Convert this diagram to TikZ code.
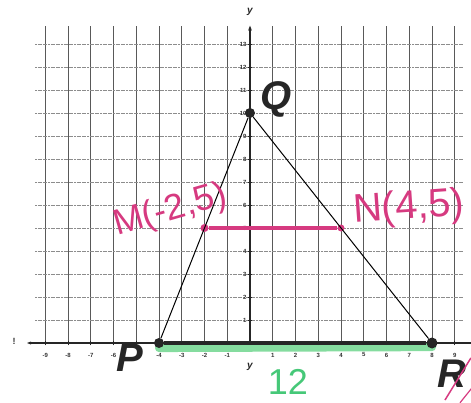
\documentclass[tikz,border=0pt]{standalone}
\usepackage{fontspec}
\setmainfont{Liberation Sans}
\usetikzlibrary{arrows.meta}
\definecolor{pinkink}{RGB}{214,58,128}
\definecolor{greenhl}{RGB}{112,214,142}
\definecolor{greenink}{RGB}{70,200,120}
\begin{document}
\begin{tikzpicture}[x=22.75pt,y=23pt,
 gridv/.style={draw=black!65, line width=0.7pt},
 gridh/.style={draw=black!45, line width=0.7pt, dash pattern=on 2pt off 0.6pt},
 axisline/.style={draw=black!85, line width=1.2pt},
 ticklab/.style={font=\fontsize{6}{6}\selectfont\bfseries, text=black!80, inner sep=0.5pt},
 axlab/.style={font=\fontsize{10}{10}\selectfont\bfseries\itshape, text=black!85, inner sep=0pt},
 vertex/.style={circle, fill=black!85, minimum size=10pt, inner sep=0pt},
 pinkdot/.style={circle, fill=pinkink, minimum size=8pt, inner sep=0pt},
 bigletter/.style={font=\fontsize{40}{40}\selectfont\bfseries\itshape, text=black!85, inner sep=0pt},
 pinktext/.style={font=\fontsize{36}{36}\selectfont, text=pinkink, inner sep=0pt},
 side/.style={draw=black, line width=1pt}]
\useasboundingbox (-10.989,-2.565) rectangle (9.714,14.913);
% grid
\foreach \i in {-9,...,-1,1,2,...,9} \draw[gridv] (\i,0) -- (\i,13.8);
\foreach \j in {1,...,13} \draw[gridh] (-9.45,\j) -- (9.4,\j);
% axes
\draw[axisline, {Stealth[length=4pt]}-] (-9.8,0) -- (9.9,0);
\draw[axisline, -{Stealth[length=5pt]}] (0,0) -- (0,13.8);
\foreach \i in {-9,...,-1,1,2,...,9} \draw[black!85, line width=0.8pt] (\i,-0.1) -- (\i,0.1);
\foreach \j in {1,...,13} \draw[black!85, line width=0.8pt] (-0.1,\j) -- (0.1,\j);
\foreach \i in {-9,-8,-7,-6,-4,-3,-2,-1} \node[ticklab] (xl\i) at (\i,-0.52) {\i};
\foreach \i in {1,...,9} \node[ticklab] (xr\i) at (\i,-0.52) {\i};
\foreach \j in {1,...,13} \node[ticklab, anchor=east] (yl\j) at (-0.12,\j) {\j};
\node[axlab] (ytop) at (0,14.39) {y};
\node[axlab] (ybot) at (0,-1.04) {y};
\node[font=\fontsize{9}{9}\selectfont\bfseries, text=black!80, inner sep=0pt] (excl) at (-10.37,0.05) {!};
% green highlight
\draw[greenhl, line width=8pt, line cap=round, opacity=0.85] (-4,-0.22) -- (8,-0.18);
% points
\node[vertex] (P) at (-4,0) {};
\node[vertex] (Q) at (0,10) {};
\node[vertex, minimum size=11pt] (R) at (8,0) {};
\node[pinkdot] (M) at (-2,5) {};
\node[pinkdot, minimum size=7pt] (N) at (4,5) {};
% sides
\draw[side] (P) -- (Q);
\draw[side] (Q) -- (R);
\draw[black!85, line width=3.5pt] (P) -- (R);
\draw[pinkink, line width=3pt] (M) -- (N);
% labels
\node[bigletter] (Plab) at (-5.27,-0.65) {P};
\node[bigletter] (Qlab) at (1.14,10.57) {Q};
\node[bigletter] (Rlab) at (8.88,-1.32) {R};
\node[pinktext, anchor=base west, rotate=16] (Mlab) at (-5.85,4.65) {M(-2,5)};
\node[pinktext, font=\fontsize{40}{40}\selectfont, anchor=base west, rotate=4] (Nlab) at (4.57,5.22) {N(4,5)};
\node[font=\fontsize{36}{36}\selectfont, text=greenink, inner sep=0pt] (len) at (1.67,-1.68) {12};
% pink strokes at the corner
\coordinate (s1a) at (8.57,-2.48);
\coordinate (s1b) at (9.71,-0.65);
\coordinate (s2a) at (9.23,-2.6);
\coordinate (s2b) at (9.75,-1.96);
\draw[pinkink, line width=1.5pt] (s1a) -- (s1b);
\draw[pinkink, line width=1.2pt] (s2a) -- (s2b);
\end{tikzpicture}
\end{document}
